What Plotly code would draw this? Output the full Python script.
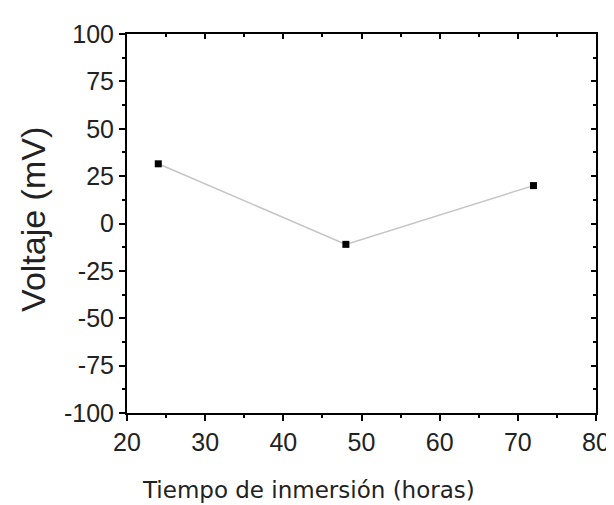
import plotly.graph_objects as go

tiempo = [24, 48, 72]
voltaje = [31.5, -11, 20]
x_ticks = [20, 30, 40, 50, 60, 70, 80]
y_ticks = [100, 75, 50, 25, 0, -25, -50, -75, -100]
y_ticktext = ["100", "75", "50", "25", "0", "-25", "-50", "-75", "-100"]

fig = go.Figure()
fig.add_trace(go.Scatter(
    x=tiempo, y=voltaje, mode="lines+markers",
    line=dict(color="#c4c4c4", width=1.5),
    marker=dict(symbol="square", size=7, color="black"),
    showlegend=False,
))
# invisible companion trace so the mirrored (top/right) axes are drawn
fig.add_trace(go.Scatter(
    x=tiempo, y=voltaje, mode="markers", xaxis="x2", yaxis="y2",
    marker=dict(opacity=0), hoverinfo="skip", showlegend=False,
))

tickfont = dict(family="Liberation Sans, Arial", size=25, color="#222")
common = dict(showline=True, linecolor="black", linewidth=2, showgrid=False, zeroline=False,
              tickwidth=2, tickcolor="black")
fig.update_layout(
    width=614, height=505,
    margin=dict(l=119, r=26, t=17, b=100),
    paper_bgcolor="white", plot_bgcolor="white",
    xaxis=dict(range=[20, 80], tickvals=x_ticks, ticks="outside", ticklen=6, tickfont=tickfont,
               minor=dict(dtick=5, ticks="outside", ticklen=3, tickwidth=2, tickcolor="black"),
               **common),
    yaxis=dict(range=[-100, 100], tickvals=y_ticks, ticktext=y_ticktext, ticks="outside", ticklen=6,
               tickfont=tickfont,
               minor=dict(dtick=12.5, ticks="outside", ticklen=3, tickwidth=2, tickcolor="black"),
               **common),
    xaxis2=dict(overlaying="x", side="top", anchor="y", range=[20, 80], tickvals=x_ticks,
                ticks="inside", ticklen=5, showticklabels=False,
                minor=dict(dtick=5, ticks="inside", ticklen=3, tickwidth=2, tickcolor="black"),
                **common),
    yaxis2=dict(overlaying="y", side="right", anchor="x", range=[-100, 100], tickvals=y_ticks,
                ticks="inside", ticklen=5, showticklabels=False,
                minor=dict(dtick=12.5, ticks="inside", ticklen=3, tickwidth=2, tickcolor="black"),
                **common),
    annotations=[
        dict(text="Tiempo de inmersión (horas)", xref="paper", yref="paper",
             x=0.388, y=-0.204, xanchor="center", yanchor="middle", showarrow=False,
             font=dict(family="DejaVu Sans, Verdana", size=23, color="#222")),
        dict(text="Voltaje (mV)", xref="paper", yref="paper",
             x=-0.2, y=0.51, xanchor="center", yanchor="middle", showarrow=False, textangle=-90,
             font=dict(family="Liberation Sans, Arial", size=34, color="#222")),
    ],
)

fig.write_html("out.html")
